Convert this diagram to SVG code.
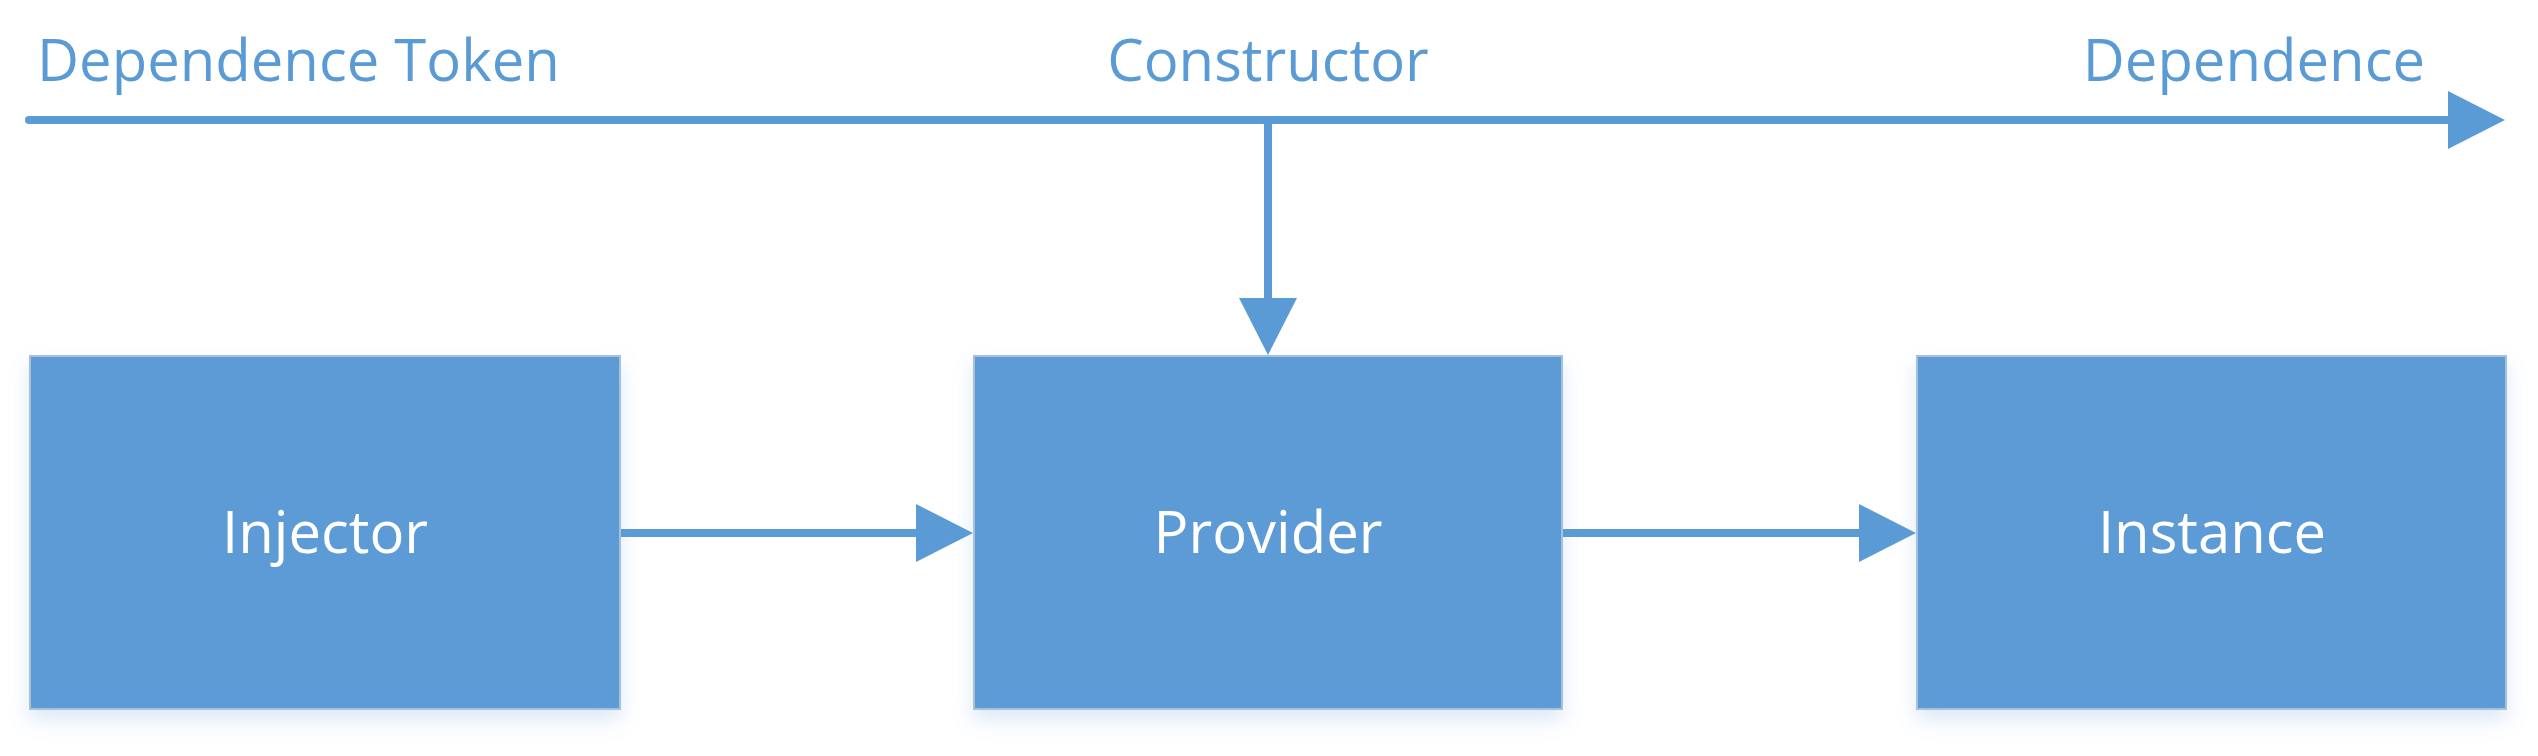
<svg xmlns="http://www.w3.org/2000/svg" width="2538" height="756" viewBox="0 0 2538 756">
<style>
.lbl{font-family:"Open Sans","Noto Sans","Liberation Sans",sans-serif;font-size:58px;fill:#5B9BD5}
.box{fill:#5B9BD5;stroke:#A8C1DB;stroke-width:2}
.boxt{font-family:"Open Sans","Noto Sans","Liberation Sans",sans-serif;font-size:58px;fill:#FFFFFF;text-anchor:middle}
.con{stroke:#5B9BD5;stroke-width:8;fill:none}
</style>
<defs>
<marker id="ah" viewBox="0 0 57 58" refX="1" refY="29" markerWidth="57" markerHeight="58" markerUnits="userSpaceOnUse" orient="auto">
<path d="M0,0 L57,29 L0,58 Z" fill="#5B9BD5"/>
</marker>
<filter id="sh" x="-10%" y="-10%" width="120%" height="130%">
<feDropShadow dx="0" dy="10" stdDeviation="10" flood-color="#5B9BD5" flood-opacity="0.22"/>
</filter>
</defs>
<rect width="2538" height="756" fill="#FFFFFF"/>
<text class="lbl" x="37" y="81">Dependence Token</text>
<text class="lbl" x="1268" y="81" text-anchor="middle">Constructor</text>
<text class="lbl" x="2425" y="81" text-anchor="end">Dependence</text>
<g id="connectors">
<line class="con" x1="29" y1="120" x2="2449" y2="120" stroke-linecap="round" marker-end="url(#ah)"/>
<line class="con" x1="1268" y1="120" x2="1268" y2="299" marker-end="url(#ah)"/>
<line class="con" x1="620" y1="533" x2="917" y2="533" marker-end="url(#ah)"/>
<line class="con" x1="1562" y1="533" x2="1860" y2="533" marker-end="url(#ah)"/>
</g>
<g id="injector">
<rect class="box" x="30" y="356" width="590" height="353" filter="url(#sh)"/>
<text class="boxt" x="325" y="553">Injector</text>
</g>
<g id="provider">
<rect class="box" x="974" y="356" width="588" height="353" filter="url(#sh)"/>
<text class="boxt" x="1268" y="553">Provider</text>
</g>
<g id="instance">
<rect class="box" x="1917" y="356" width="589" height="353" filter="url(#sh)"/>
<text class="boxt" x="2212" y="553">Instance</text>
</g>
</svg>
